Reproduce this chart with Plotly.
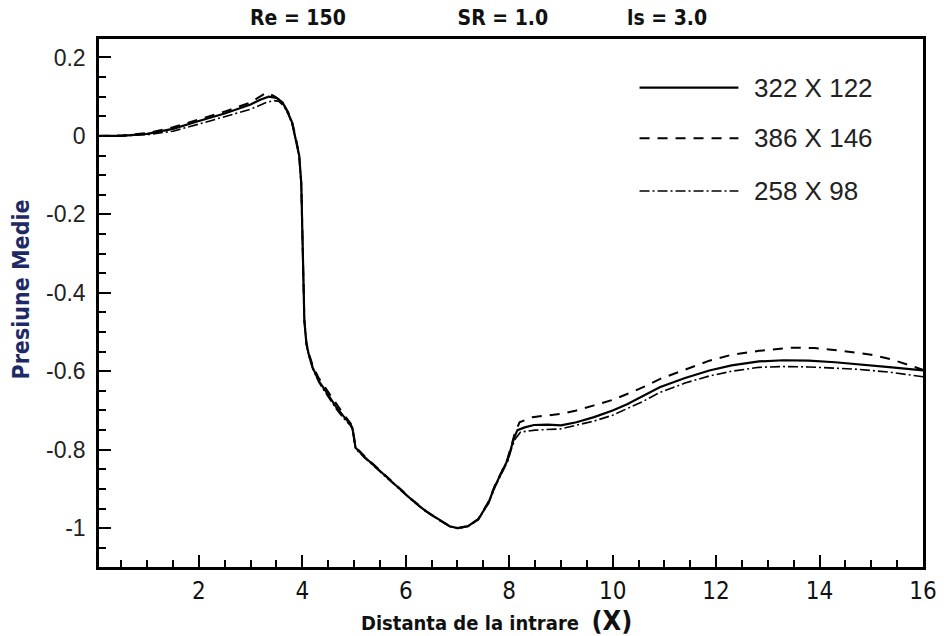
import plotly.graph_objects as go

# ---------------- data ----------------
x_322 = [0.07, 0.5, 1.0, 1.5, 2.0, 2.5, 3.0, 3.2, 3.35, 3.5, 3.62, 3.72, 3.8, 3.88, 3.94,
         3.98, 4.0, 4.02, 4.04, 4.08, 4.13, 4.2, 4.32, 4.45, 4.65, 4.8, 4.93, 4.97, 5.03,
         5.2, 5.48, 5.8, 6.11, 6.4, 6.63, 6.85, 7.0, 7.2, 7.4, 7.6, 7.72, 7.85, 7.97, 8.05,
         8.1, 8.16, 8.3, 8.48, 8.75, 9.0, 9.3, 9.64, 10.0, 10.28, 10.6, 10.91, 11.4, 11.87,
         12.3, 12.83, 13.3, 13.79, 14.3, 14.75, 15.4, 16.0]
y_322 = [0.0, 0.0, 0.005, 0.018, 0.038, 0.057, 0.08, 0.093, 0.10, 0.097, 0.085, 0.06, 0.035,
         -0.01, -0.05, -0.12, -0.22, -0.36, -0.47, -0.53, -0.56, -0.59, -0.625, -0.65, -0.69,
         -0.715, -0.735, -0.745, -0.795, -0.818, -0.851, -0.89, -0.927, -0.958, -0.978,
         -0.995, -1.0, -0.995, -0.978, -0.935, -0.894, -0.86, -0.826, -0.79, -0.768, -0.75,
         -0.743, -0.737, -0.736, -0.738, -0.73, -0.717, -0.70, -0.684, -0.663, -0.641,
         -0.617, -0.598, -0.585, -0.575, -0.572, -0.573, -0.577, -0.582, -0.59, -0.598]

x_386 = [0.07, 0.5, 1.0, 1.5, 2.0, 2.5, 3.0, 3.15, 3.3, 3.45, 3.6, 3.72, 3.8, 3.88, 3.94,
         3.98, 4.0, 4.02, 4.04, 4.08, 4.13, 4.2, 4.32, 4.45, 4.65, 4.8, 4.93, 4.97, 5.03,
         5.2, 5.48, 5.8, 6.11, 6.4, 6.63, 6.85, 7.0, 7.2, 7.4, 7.6, 7.72, 7.85, 7.97, 8.05,
         8.1, 8.2, 8.45, 8.99, 9.3, 9.64, 10.0, 10.28, 10.6, 10.91, 11.4, 11.87, 12.3,
         12.83, 13.47, 13.9, 14.44, 15.0, 15.4, 16.0]
y_386 = [0.0, 0.001, 0.007, 0.022, 0.042, 0.062, 0.085, 0.098, 0.11, 0.102, 0.088, 0.062,
         0.037, -0.008, -0.05, -0.12, -0.22, -0.36, -0.47, -0.528, -0.556, -0.585, -0.618,
         -0.643, -0.683, -0.71, -0.732, -0.745, -0.793, -0.816, -0.85, -0.889, -0.926,
         -0.957, -0.978, -0.995, -1.0, -0.995, -0.977, -0.933, -0.892, -0.857, -0.822,
         -0.786, -0.762, -0.73, -0.717, -0.709, -0.70, -0.687, -0.673, -0.658, -0.64,
         -0.62, -0.595, -0.573, -0.558, -0.548, -0.54, -0.541, -0.548, -0.558, -0.57,
         -0.596]

x_258 = [0.07, 0.5, 1.0, 1.5, 2.0, 2.5, 3.0, 3.3, 3.45, 3.55, 3.65, 3.74, 3.8, 3.88, 3.94,
         3.98, 4.0, 4.02, 4.04, 4.08, 4.13, 4.2, 4.32, 4.45, 4.65, 4.8, 4.93, 4.97, 5.03,
         5.2, 5.48, 5.8, 6.11, 6.4, 6.63, 6.85, 7.0, 7.2, 7.4, 7.6, 7.72, 7.85, 7.97, 8.05,
         8.12, 8.22, 8.5, 8.99, 9.3, 9.64, 10.0, 10.28, 10.6, 10.91, 11.4, 11.87, 12.3,
         12.83, 13.3, 13.79, 14.3, 14.75, 15.4, 16.0]
y_258 = [0.0, 0.0, 0.003, 0.012, 0.03, 0.048, 0.068, 0.085, 0.09, 0.088, 0.075, 0.052,
         0.032, -0.012, -0.052, -0.12, -0.22, -0.36, -0.47, -0.532, -0.562, -0.593, -0.628,
         -0.655, -0.695, -0.72, -0.738, -0.748, -0.797, -0.82, -0.853, -0.892, -0.928,
         -0.959, -0.979, -0.996, -1.0, -0.996, -0.979, -0.937, -0.897, -0.862, -0.83,
         -0.795, -0.772, -0.755, -0.75, -0.747, -0.738, -0.727, -0.712, -0.696, -0.676,
         -0.654, -0.63, -0.612, -0.6, -0.59, -0.588, -0.589, -0.592, -0.595, -0.603, -0.614]

series_names = ["322 X 122", "386 X 146", "258 X 98"]
series_dash = ["solid", "10px,8px", "10px,3px,2px,3px"]
series_width = [2.2, 2.0, 1.6]

x_ticks = [2, 4, 6, 8, 10, 12, 14, 16]
x_ticktext = ["2", "4", "6", "8", "10", "12", "14", "16"]
y_ticks = [0.2, 0.0, -0.2, -0.4, -0.6, -0.8, -1.0]
y_ticktext = ["0.2", "0", "-0.2", "-0.4", "-0.6", "-0.8", "-1"]

title_parts = ["Re = 150", "SR = 1.0", "ls = 3.0"]

NARROW = "DejaVu Sans Condensed, Liberation Sans Narrow, Arial Narrow, Liberation Sans, Arial, sans-serif"
SANS = "Liberation Sans, Arial, Helvetica, sans-serif"

fig = go.Figure()
for xs, ys, name, dash, w in zip([x_322, x_386, x_258], [y_322, y_386, y_258],
                                 series_names, series_dash, series_width):
    fig.add_trace(go.Scatter(x=xs, y=ys, mode="lines", name=name,
                             line=dict(color="black", width=w, dash=dash),
                             showlegend=False))

# manual legend (paper coordinates)
leg_y = [0.908, 0.812, 0.712]
for name, dash, w, yy in zip(series_names, series_dash, series_width, leg_y):
    fig.add_shape(type="line", xref="paper", yref="paper", x0=0.656, x1=0.776, y0=yy, y1=yy,
                  line=dict(color="black", width=w, dash=dash))
    fig.add_annotation(xref="paper", yref="paper", x=0.793, y=yy, text=name, showarrow=False,
                       xanchor="left", yanchor="middle",
                       font=dict(family=SANS, size=26, color="#222222"))

# y-axis title placed as an annotation (left of tick labels)
fig.add_annotation(xref="paper", yref="paper", x=-0.095, y=0.525, text="<b>Presiune Medie</b>",
                   textangle=-90, showarrow=False, xanchor="center", yanchor="middle",
                   font=dict(family=NARROW, size=23, color="#1e2a66"))

title_text = ("<b>" + title_parts[0] + "&nbsp;" * 17 + title_parts[1]
              + "&nbsp;" * 12 + title_parts[2] + "</b>")
fig.update_layout(
    width=949, height=636,
    margin=dict(l=99, r=21, t=39, b=65),
    paper_bgcolor="white", plot_bgcolor="white",
    title=dict(text=title_text, x=250 / 949, xanchor="left", xref="container",
               y=0.972, yanchor="middle",
               font=dict(family=NARROW, size=21, color="#111111")),
    xaxis=dict(range=[0.07, 16], tickvals=x_ticks, ticktext=x_ticktext,
               ticks="inside", ticklen=12, tickwidth=2, tickcolor="black",
               minor=dict(dtick=0.5, tick0=0, ticks="inside", ticklen=7, tickwidth=1.5,
                          tickcolor="black", showgrid=False),
               showline=True, linewidth=2.5, linecolor="black", mirror=True,
               showgrid=False, zeroline=False,
               tickfont=dict(family=NARROW, size=24, color="#111111"),
               title=dict(text="<b>Distanta de la intrare&nbsp;&nbsp;<span style='font-size:27px'>(X)</span></b>&nbsp;&nbsp;&nbsp;&nbsp;&nbsp;",
                          font=dict(family=NARROW, size=20, color="#111111"), standoff=5)),
    yaxis=dict(range=[-1.099, 0.247], tickvals=y_ticks, ticktext=y_ticktext,
               ticks="inside", ticklen=12, tickwidth=2, tickcolor="black",
               minor=dict(dtick=0.05, tick0=0, ticks="inside", ticklen=7, tickwidth=1.5,
                          tickcolor="black", showgrid=False),
               showline=True, linewidth=2.5, linecolor="black", mirror=True,
               showgrid=False, zeroline=False, ticklabelstandoff=6,
               tickfont=dict(family=SANS, size=23, color="#222222")),
)

fig.write_html("out.html")
